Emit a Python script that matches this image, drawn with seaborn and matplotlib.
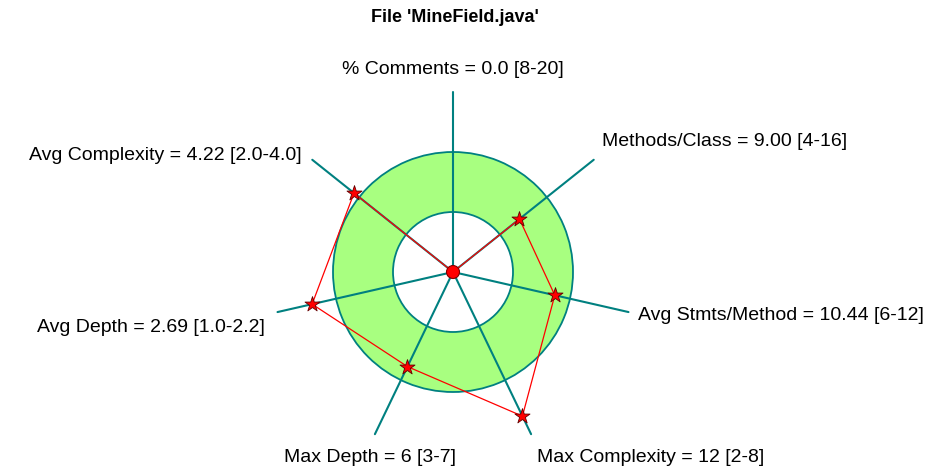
import numpy as np
import pandas as pd
import seaborn as sns
import matplotlib.pyplot as plt
from matplotlib.patches import Wedge, Circle

sns.set_style('white')
plt.rcParams['font.family'] = ['Liberation Sans', 'DejaVu Sans']

metrics = ['% Comments', 'Methods/Class', 'Avg Stmts/Method', 'Max Complexity',
           'Max Depth', 'Avg Depth', 'Avg Complexity']
values = [0.0, 9.00, 10.44, 12, 6, 2.69, 4.22]
lows = [8, 4, 6, 2, 3, 1.0, 2.0]
highs = [20, 16, 12, 8, 7, 2.2, 4.0]
labels = ['% Comments = 0.0 [8-20]', 'Methods/Class = 9.00 [4-16]',
          'Avg Stmts/Method = 10.44 [6-12]', 'Max Complexity = 12 [2-8]',
          'Max Depth = 6 [3-7]', 'Avg Depth = 2.69 [1.0-2.2]',
          'Avg Complexity = 4.22 [2.0-4.0]']

cx, cy = 453, 272
r_in, r_out, r_axis = 60, 120, 180
teal = '#008080'

fig = plt.figure(figsize=(9.4, 4.72), dpi=100)
ax = fig.add_axes([0, 0, 1, 1])

ax.add_patch(Wedge((cx, cy), r_out, 0, 360, width=r_out - r_in,
                   facecolor='#a8ff80', edgecolor=teal, lw=1.3, zorder=1))

n = len(metrics)
ang = np.deg2rad(90 - 360 / n * np.arange(n))
for a in ang:
    ax.plot([cx, cx + r_axis * np.cos(a)], [cy, cy - r_axis * np.sin(a)],
            color=teal, lw=1.5, zorder=2)

v = np.array(values, float)
lo = np.array(lows, float)
hi = np.array(highs, float)
r = np.where(v < lo, v / lo * r_in, r_in + (v - lo) / (hi - lo) * (r_out - r_in))
pts = pd.DataFrame({'x': cx + r * np.cos(ang), 'y': cy - r * np.sin(ang)})
poly = pd.concat([pts, pts.iloc[:1]], ignore_index=True)
sns.lineplot(data=poly, x='x', y='y', sort=False, color='red', lw=0.9,
             ax=ax, zorder=3, estimator=None)
sns.scatterplot(data=pts[r > 0], x='x', y='y', marker='*', s=130, color='red',
                edgecolor='#600000', linewidth=0.6, ax=ax, zorder=4)
ax.add_patch(Circle((cx, cy), 6.5, facecolor='red', edgecolor='#800000', lw=0.8, zorder=5))
ax.set_xlim(0, 940)
ax.set_ylim(472, 0)
ax.set_aspect('equal')
ax.axis('off')

pos = [(453, 70, 'center'), (602, 142, 'left'), (638, 316, 'left'),
       (537, 458, 'left'), (370, 458, 'center'), (265, 327, 'right'),
       (302, 155, 'right')]
for (x, y, ha), t in zip(pos, labels):
    ax.text(x, y, t, ha=ha, va='center', fontsize=14, color='black')

ax.text(455, 17, "File 'MineField.java'", ha='center', va='center',
        fontsize=13, fontweight='bold', color='black')

fig.savefig('out.png', dpi=100)
